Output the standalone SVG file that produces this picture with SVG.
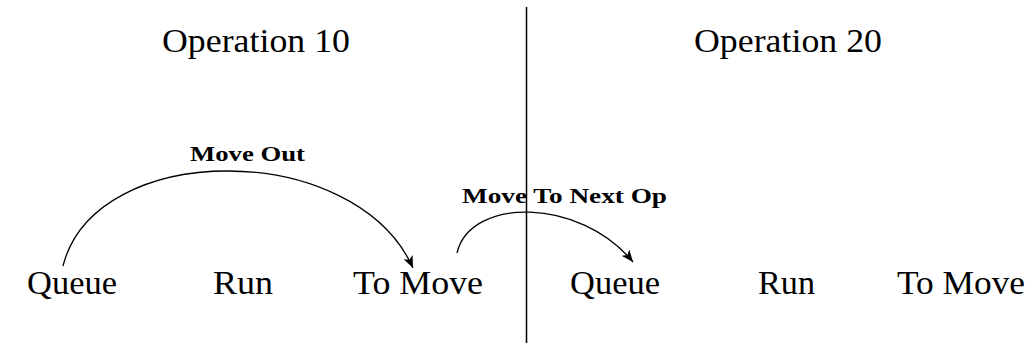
<svg xmlns="http://www.w3.org/2000/svg" width="1036" height="349" viewBox="0 0 1036 349">
<style>
.t{font-family:"Liberation Serif","Times New Roman",serif;fill:#000}
.big{font-size:33px}
.lbl{font-size:20px;font-weight:bold}
.c{fill:none;stroke:#000;stroke-width:1.3}
</style>
<defs>
<marker id="ah" viewBox="0 0 12 10" refX="12" refY="5" markerWidth="12" markerHeight="10" markerUnits="userSpaceOnUse" orient="auto">
<path d="M0,0 L12,5 L0,10 L3,5 Z" fill="#000"/>
</marker>
</defs>
<rect width="1036" height="349" fill="#fff"/>
<g id="divider"><line x1="526.5" y1="7" x2="526.5" y2="343" stroke="#000" stroke-width="1.5"/></g>
<g id="title1"><text class="t big" x="162" y="52" textLength="188" lengthAdjust="spacingAndGlyphs">Operation 10</text></g>
<g id="title2"><text class="t big" x="694" y="52" textLength="188" lengthAdjust="spacingAndGlyphs">Operation 20</text></g>
<g id="queue1"><text class="t big" x="27" y="294" textLength="90" lengthAdjust="spacingAndGlyphs">Queue</text></g>
<g id="run1"><text class="t big" x="213" y="294" textLength="60" lengthAdjust="spacingAndGlyphs">Run</text></g>
<g id="tomove1"><text class="t big" x="353" y="294" textLength="130" lengthAdjust="spacingAndGlyphs">To Move</text></g>
<g id="queue2"><text class="t big" x="570" y="294" textLength="90" lengthAdjust="spacingAndGlyphs">Queue</text></g>
<g id="run2"><text class="t big" x="758" y="294" textLength="57" lengthAdjust="spacingAndGlyphs">Run</text></g>
<g id="tomove2"><text class="t big" x="897" y="294" textLength="128" lengthAdjust="spacingAndGlyphs">To Move</text></g>
<g id="connectors">
<path class="c" d="M63 266 C95 139, 355 139, 413 268" marker-end="url(#ah)"/>
<path class="c" d="M457 253 C470 197, 580 197, 633 262" marker-end="url(#ah)"/>
<text class="t lbl" x="190" y="161" textLength="115" lengthAdjust="spacingAndGlyphs">Move Out</text>
<text class="t lbl" x="462" y="203" textLength="205" lengthAdjust="spacingAndGlyphs">Move To Next Op</text>
</g>
</svg>
